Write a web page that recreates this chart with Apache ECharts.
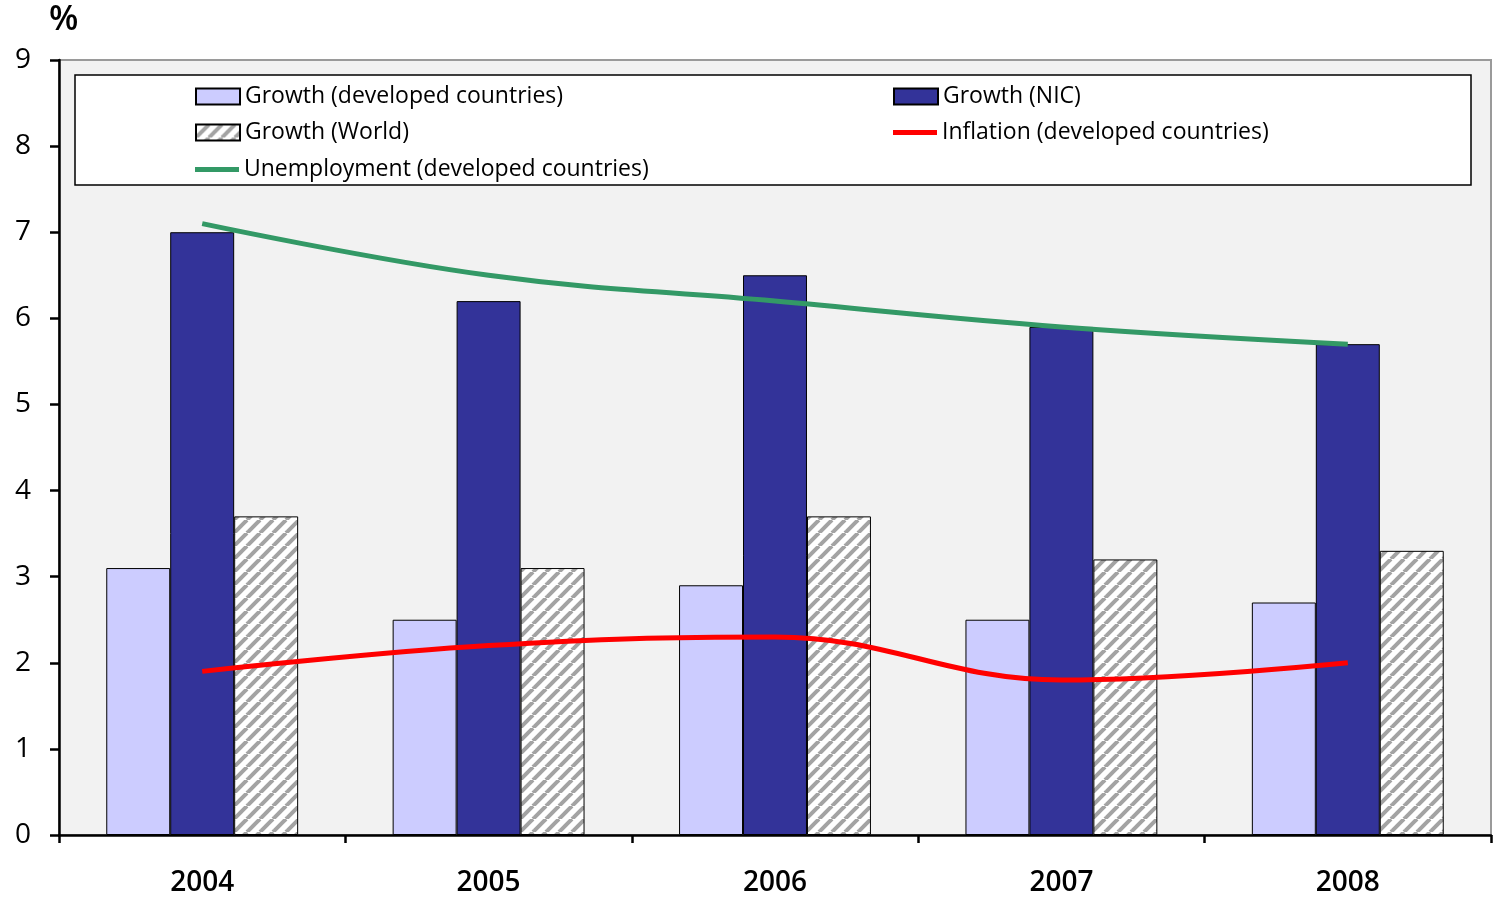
<!DOCTYPE html>
<html><head><meta charset="utf-8">
<script src="https://cdn.jsdelivr.net/npm/echarts@6/dist/echarts.min.js"></script>
<style>html,body{margin:0;padding:0;background:#fff}#c{width:1493px;height:898px}</style>
</head><body><div id="c"></div>
<script>
const years = ['2004','2005','2006','2007','2008'];
const growthDeveloped = [3.1, 2.5, 2.9, 2.5, 2.7];
const growthNIC = [7.0, 6.2, 6.5, 5.9, 5.7];
const growthWorld = [3.7, 3.1, 3.7, 3.2, 3.3];
const inflationDeveloped = [1.9, 2.2, 2.3, 1.8, 2.0];
const unemploymentDeveloped = [7.1, 6.5, 6.2, 5.9, 5.7];

function hatch(){
  const s = 13, c = document.createElement('canvas');
  c.width = s; c.height = s;
  const g = c.getContext('2d');
  g.fillStyle = '#ffffff'; g.fillRect(0,0,s,s);
  g.strokeStyle = '#a3a3a3'; g.lineWidth = 4;
  for (let k = -1; k <= 1; k++) {
    g.beginPath(); g.moveTo(k*s, s); g.lineTo(k*s + s, 0); g.stroke();
  }
  return c;
}
const font = '"Open Sans", "DejaVu Sans", sans-serif';
const chart = echarts.init(document.getElementById('c'));
const legendText = {fontFamily: font, fontSize: 23, color: '#000'};
function leg(name, left, top, line){
  return {data: [{name: name, icon: 'rect'}], left: left, top: top, padding: 0,
    itemWidth: 44, itemHeight: line ? 5 : 16, itemGap: 0, textStyle: legendText};
}
chart.setOption({
  animation: false,
  grid: {left: 59, right: 2, top: 60, bottom: 63, show: true, backgroundColor: '#f2f2f2', borderColor: '#9a9a9a', borderWidth: 2},
  graphic: [
    {type: 'rect', shape: {x: 75, y: 75, width: 1396, height: 110}, style: {fill: '#fff', stroke: '#000', lineWidth: 1.5}, z: 0},
    {type: 'text', left: 49, top: 3, style: {text: '%', font: '600 34px ' + font, fill: '#000'}}
  ],
  legend: [
    leg('Growth (developed countries)', 195, 85, false),
    leg('Growth (World)', 195, 121, false),
    leg('Unemployment (developed countries)', 195, 158, true),
    leg('Growth (NIC)', 893, 85, false),
    leg('Inflation (developed countries)', 893, 121, true)
  ],
  xAxis: {
    type: 'category', data: years, boundaryGap: true,
    axisLine: {lineStyle: {color: '#000', width: 2.5}},
    axisTick: {show: true, alignWithLabel: false, length: 8, lineStyle: {color: '#000', width: 2.5}},
    axisLabel: {fontFamily: font, fontSize: 28, color: '#000', margin: 34, fontWeight: 600}
  },
  yAxis: {
    type: 'value', min: 0, max: 9, interval: 1,
    splitLine: {show: false},
    axisLine: {show: true, lineStyle: {color: '#000', width: 2.5}},
    axisTick: {show: true, length: 9, lineStyle: {color: '#000', width: 2.5}},
    axisLabel: {fontFamily: font, fontSize: 28, color: '#000', margin: 28, fontWeight: 500}
  },
  series: [
    {name: 'Growth (developed countries)', type: 'bar', data: growthDeveloped, barGap: '0%', barCategoryGap: '33%', itemStyle: {color: '#ccccff', borderColor: '#000', borderWidth: 1}},
    {name: 'Growth (NIC)', type: 'bar', data: growthNIC, itemStyle: {color: '#333399', borderColor: '#000', borderWidth: 1}},
    {name: 'Growth (World)', type: 'bar', data: growthWorld, itemStyle: {color: {image: hatch(), repeat: 'repeat'}, borderColor: '#000', borderWidth: 1}},
    {name: 'Inflation (developed countries)', type: 'line', data: inflationDeveloped, smooth: 0.4, symbol: 'none', lineStyle: {color: '#ff0000', width: 5}, itemStyle: {color: '#ff0000'}, z: 5},
    {name: 'Unemployment (developed countries)', type: 'line', data: unemploymentDeveloped, smooth: 0.4, symbol: 'none', lineStyle: {color: '#339966', width: 5}, itemStyle: {color: '#339966'}, z: 5}
  ]
});
</script></body></html>
